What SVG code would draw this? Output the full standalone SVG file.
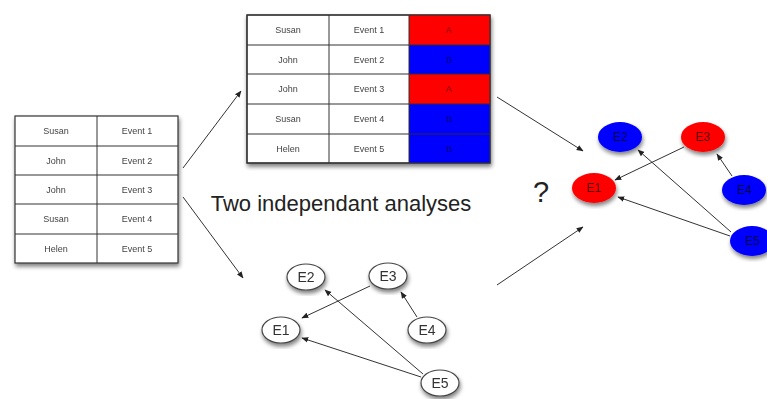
<svg xmlns="http://www.w3.org/2000/svg" width="767" height="399" viewBox="0 0 767 399">
<defs>
<filter id="sh" x="-10%" y="-10%" width="130%" height="130%">
<feGaussianBlur in="SourceAlpha" stdDeviation="2"/>
<feOffset dx="1" dy="3" result="o"/>
<feComponentTransfer><feFuncA type="linear" slope="0.5"/></feComponentTransfer>
<feMerge><feMergeNode/><feMergeNode in="SourceGraphic"/></feMerge>
</filter>
<marker id="ah" viewBox="0 0 10 10" refX="9" refY="5" markerWidth="7" markerHeight="7" orient="auto" markerUnits="userSpaceOnUse">
<path d="M0,1 L10,5 L0,9 z" fill="#222"/>
</marker>
</defs>
<style>
.cell{fill:#fff;stroke:#333;stroke-width:1.2}
.t{font-family:"Liberation Sans",Arial,sans-serif;font-size:9px;fill:#444;text-anchor:middle}
.n{fill:#fff;stroke:#444;stroke-width:1.2}
.nt{font-family:"Liberation Sans",Arial,sans-serif;font-size:14px;fill:#333;text-anchor:middle}
.ct{font-family:"Liberation Sans",Arial,sans-serif;font-size:12px;text-anchor:middle}
.c{stroke:#333;stroke-width:1;fill:none;marker-end:url(#ah)}
</style>
<rect width="767" height="399" fill="#fff"/>

<g id="table-left" filter="url(#sh)">
<rect class="cell" x="15" y="116" width="163" height="147"/>
<line stroke="#333" x1="97" y1="116" x2="97" y2="263"/>
<line stroke="#333" x1="15" y1="146" x2="178" y2="146"/>
<line stroke="#333" x1="15" y1="175" x2="178" y2="175"/>
<line stroke="#333" x1="15" y1="204" x2="178" y2="204"/>
<line stroke="#333" x1="15" y1="234" x2="178" y2="234"/>
<text class="t" x="56" y="134">Susan</text><text class="t" x="137" y="134">Event 1</text>
<text class="t" x="56" y="164">John</text><text class="t" x="137" y="164">Event 2</text>
<text class="t" x="56" y="193">John</text><text class="t" x="137" y="193">Event 3</text>
<text class="t" x="56" y="222">Susan</text><text class="t" x="137" y="222">Event 4</text>
<text class="t" x="56" y="252">Helen</text><text class="t" x="137" y="252">Event 5</text>
</g>

<g id="table-top" filter="url(#sh)">
<rect class="cell" x="247" y="15" width="243" height="148"/>
<rect x="409" y="15" width="81" height="30" fill="#f00"/>
<rect x="409" y="45" width="81" height="29" fill="#00f"/>
<rect x="409" y="74" width="81" height="30" fill="#f00"/>
<rect x="409" y="104" width="81" height="30" fill="#00f"/>
<rect x="409" y="134" width="81" height="29" fill="#00f"/>
<rect x="247" y="15" width="243" height="148" fill="none" stroke="#333" stroke-width="1.2"/>
<line stroke="#333" x1="329" y1="15" x2="329" y2="163"/>
<line stroke="#333" x1="409" y1="15" x2="409" y2="163"/>
<line stroke="#333" x1="247" y1="45" x2="490" y2="45"/>
<line stroke="#333" x1="247" y1="74" x2="490" y2="74"/>
<line stroke="#333" x1="247" y1="104" x2="490" y2="104"/>
<line stroke="#333" x1="247" y1="134" x2="490" y2="134"/>
<text class="t" x="288" y="33">Susan</text><text class="t" x="369" y="33">Event 1</text><text class="t" x="449" y="33" style="fill:#700">A</text>
<text class="t" x="288" y="63">John</text><text class="t" x="369" y="63">Event 2</text><text class="t" x="449" y="63" style="fill:#007">B</text>
<text class="t" x="288" y="92">John</text><text class="t" x="369" y="92">Event 3</text><text class="t" x="449" y="92" style="fill:#700">A</text>
<text class="t" x="288" y="122">Susan</text><text class="t" x="369" y="122">Event 4</text><text class="t" x="449" y="122" style="fill:#007">B</text>
<text class="t" x="288" y="152">Helen</text><text class="t" x="369" y="152">Event 5</text><text class="t" x="449" y="152" style="fill:#007">B</text>
</g>

<g id="label-analyses">
<text x="341" y="211" font-family="Liberation Sans, Arial, sans-serif" font-size="22" fill="#222" text-anchor="middle">Two independant analyses</text>
</g>
<g id="label-question">
<text x="541" y="202" font-family="Liberation Sans, Arial, sans-serif" font-size="29" fill="#222" text-anchor="middle">?</text>
</g>

<g id="b-E2" filter="url(#sh)"><ellipse class="n" cx="306" cy="277" rx="19" ry="13"/><text class="nt" x="306" y="282">E2</text></g>
<g id="b-E3" filter="url(#sh)"><ellipse class="n" cx="388" cy="276" rx="19" ry="13"/><text class="nt" x="388" y="281">E3</text></g>
<g id="b-E1" filter="url(#sh)"><ellipse class="n" cx="281" cy="330" rx="19" ry="13"/><text class="nt" x="281" y="335">E1</text></g>
<g id="b-E4" filter="url(#sh)"><ellipse class="n" cx="427" cy="330" rx="19" ry="13"/><text class="nt" x="427" y="335">E4</text></g>
<g id="b-E5" filter="url(#sh)"><ellipse class="n" cx="440" cy="383" rx="19" ry="13"/><text class="nt" x="440" y="388">E5</text></g>

<g id="r-E2" filter="url(#sh)"><ellipse cx="620" cy="137" rx="22" ry="15" fill="#00f"/><text class="ct" x="620" y="141" fill="#004">E2</text></g>
<g id="r-E3" filter="url(#sh)"><ellipse cx="703" cy="137" rx="22" ry="15" fill="#f00"/><text class="ct" x="703" y="141" fill="#500">E3</text></g>
<g id="r-E1" filter="url(#sh)"><ellipse cx="594" cy="188" rx="22" ry="15" fill="#f00"/><text class="ct" x="594" y="192" fill="#500">E1</text></g>
<g id="r-E4" filter="url(#sh)"><ellipse cx="744" cy="190" rx="22" ry="15" fill="#00f"/><text class="ct" x="744" y="194" fill="#004">E4</text></g>
<g id="r-E5" filter="url(#sh)"><ellipse cx="752" cy="241" rx="22" ry="15" fill="#00f"/><text class="ct" x="752" y="245" fill="#004">E5</text></g>

<g id="connectors">
<line class="c" x1="183" y1="168" x2="241" y2="91"/>
<line class="c" x1="183" y1="197" x2="243" y2="278"/>
<line class="c" x1="497" y1="97" x2="583" y2="151"/>
<line class="c" x1="497" y1="285" x2="583" y2="227"/>
<line class="c" x1="370" y1="286" x2="302" y2="318"/>
<line class="c" x1="423" y1="374" x2="325" y2="290"/>
<line class="c" x1="421" y1="377" x2="302" y2="338"/>
<line class="c" x1="417" y1="317" x2="401" y2="292"/>
<line class="c" x1="684" y1="147" x2="615" y2="180"/>
<line class="c" x1="731" y1="232" x2="638" y2="150"/>
<line class="c" x1="730" y1="236" x2="618" y2="197"/>
<line class="c" x1="732" y1="176" x2="717" y2="154"/>
</g>
</svg>
